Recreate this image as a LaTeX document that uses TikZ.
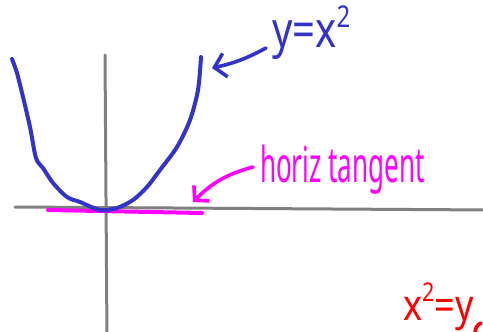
\documentclass[tikz,border=0pt]{standalone}
\usepackage{fontspec}
\setmainfont{Noto Sans}
\usetikzlibrary{arrows.meta}
\definecolor{penblue}{RGB}{51,51,204}
\definecolor{penmag}{RGB}{255,0,255}
\definecolor{penred}{RGB}{255,0,0}
\definecolor{pengray}{RGB}{128,128,128}
\tikzset{
  axisline/.style={pengray,line width=3pt,line cap=round},
  curveline/.style={penblue,line width=4pt,line cap=round,line join=round},
  tanline/.style={penmag,line width=4pt,line cap=round},
  bluearrow/.style={penblue,line width=3.6pt,line cap=round,-{Straight Barb[length=11pt,width=24pt,line width=3.6pt]}},
  magarrow/.style={penmag,line width=3.6pt,line cap=round,-{Straight Barb[length=10pt,width=22pt,line width=3.6pt]}},
  hand/.style={inner sep=0pt,anchor=base west}
}
\newcommand{\hsup}[1]{\raisebox{0.42em}{\scalebox{0.6}{#1}}}
\begin{document}
\begin{tikzpicture}[x=1pt,y=-1pt]
\useasboundingbox (0,0) rectangle (483,332);
\clip (0,0) rectangle (483,332);
\fill[white] (0,0) rectangle (483,332);
% axes
\coordinate (xl) at (15,207);
\coordinate (xr) at (490,210);
\coordinate (yt) at (105,55);
\coordinate (yb) at (107,340);
\draw[axisline] (xl) -- (xr);
\draw[axisline] (yt) -- (yb);
% tangent line
\coordinate (tl) at (48,210);
\coordinate (tr) at (202,213);
\draw[tanline] (tl) -- (tr);
% parabola
\draw[curveline] plot[smooth,tension=0.5] coordinates {
 (12,59) (17,73) (23,97) (30,127) (36,158) (43,168) (53,183) (67,197) (80,202)
 (100,210) (117,208) (133,200) (147,187) (160,170) (177,147) (190,120) (198,90) (201,57)};
% labels
\node[hand,penblue,font=\fontsize{40}{40}\selectfont,yscale=1.25] (lab1) at (272,48) {y=x\hsup{2}};
\coordinate (a1s) at (266,48);
\coordinate (a1e) at (212,68);
\draw[bluearrow] (a1s) to[bend left=8] (a1e);
\node[hand,penmag,font=\fontsize{26}{26}\selectfont,yscale=1.9] (lab2) at (260,182) {horiz tangent};
\coordinate (a2s) at (253,167);
\coordinate (a2e) at (193,202);
\draw[magarrow] (a2s) to[bend right=15] (a2e);
\node[hand,penred,font=\fontsize{36}{36}\selectfont,yscale=1.2] (lab3) at (403,320) {x\hsup{2}=y};
\draw[penred,line width=3.6pt,line cap=round] (481,323) .. controls (477,325) and (475,328) .. (475,334);
\end{tikzpicture}
\end{document}
